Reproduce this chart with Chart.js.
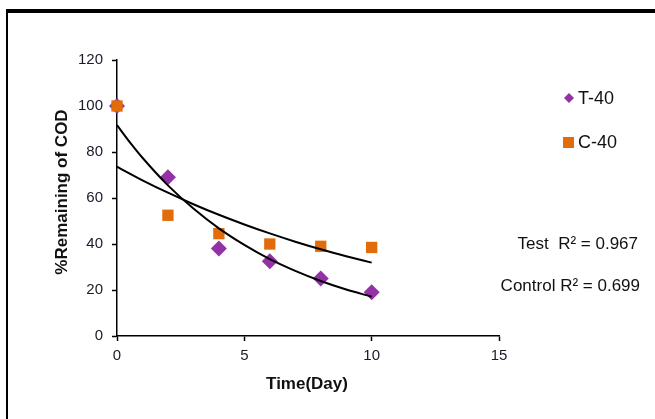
<!DOCTYPE html>
<html lang="en">
<head>
  <meta charset="UTF-8">
  <title>COD remaining</title>
  <script src="https://cdn.jsdelivr.net/npm/chart.js"></script>
  <style>
    body {
      margin: 0;
      background: #fff;
    }
    #wrap {
      width: 655px;
      height: 419px;
    }
  </style>
</head>
<body>
  <div id="wrap"><canvas id="cod-chart" width="655" height="419"></canvas></div>

  <script>
    // measured days
    const days = [0, 2, 4, 6, 8, 10];
    const testValues = [100, 69, 38, 32.5, 25, 19];        // T-40
    const controlValues = [100, 52.5, 44.5, 40, 39, 38.5]; // C-40

    // exponential trendlines
    const trendDays = [0, 0.5, 1, 2, 3, 4, 5, 6, 7, 8, 9, 10];
    const testTrend = [91.7, 84.3, 77.5, 65.5, 55.4, 46.8, 39.6, 33.4, 28.3, 23.9, 20.2, 17.1];
    const controlTrend = [73.6, 70.6, 67.7, 62.3, 57.3, 52.7, 48.5, 44.6, 41.0, 37.7, 34.7, 31.9];

    const seriesNames = ['T-40', 'C-40'];
    const r2Labels = ['Test  R\u00B2 = 0.967', 'Control R\u00B2 = 0.699'];

    const purple = '#9331a6';
    const orange = '#e36c0a';
    const font = 'Liberation Sans, Arial, sans-serif';

    const toPoints = (xs, ys) => xs.map((x, i) => ({ x: x, y: ys[i] }));

    // frame, axis titles, legend and R² notes
    const decorPlugin = {
      id: 'decor',
      afterDraw(chart) {
        const ctx = chart.ctx;
        ctx.save();
        ctx.fillStyle = '#000';
        ctx.fillRect(6, 9, 649, 4);
        ctx.fillRect(6, 9, 2, 410);

        ctx.fillStyle = '#111';
        ctx.font = 'bold 17px ' + font;
        ctx.textAlign = 'center';
        ctx.textBaseline = 'middle';
        ctx.fillText('Time(Day)', 307, 384);

        ctx.save();
        ctx.translate(62, 192);
        ctx.rotate(-Math.PI / 2);
        ctx.fillText('%Remaining of COD', 0, 0);
        ctx.restore();

        // legend
        ctx.font = '18px ' + font;
        ctx.textAlign = 'left';
        ctx.fillStyle = purple;
        ctx.beginPath();
        ctx.moveTo(569, 93); ctx.lineTo(574, 98); ctx.lineTo(569, 103); ctx.lineTo(564, 98);
        ctx.closePath();
        ctx.fill();
        ctx.fillStyle = orange;
        ctx.fillRect(563, 137, 11, 11);
        ctx.fillStyle = '#111';
        ctx.fillText(seriesNames[0], 578, 99);
        ctx.fillText(seriesNames[1], 578, 143);

        ctx.font = '17px ' + font;
        ctx.textAlign = 'right';
        ctx.fillText(r2Labels[0], 638, 244);
        ctx.fillText(r2Labels[1], 640, 286);
        ctx.restore();
      }
    };

    new Chart(document.getElementById('cod-chart'), {
      type: 'scatter',
      data: {
        datasets: [
          {
            label: 'Test trend',
            data: toPoints(trendDays, testTrend),
            showLine: true,
            borderColor: '#000',
            borderWidth: 2,
            pointRadius: 0,
            cubicInterpolationMode: 'monotone',
            order: 0
          },
          {
            label: 'Control trend',
            data: toPoints(trendDays, controlTrend),
            showLine: true,
            borderColor: '#000',
            borderWidth: 2,
            pointRadius: 0,
            cubicInterpolationMode: 'monotone',
            order: 0
          },
          {
            label: seriesNames[1],
            data: toPoints(days, controlValues),
            pointStyle: 'rect',
            pointRadius: 8,
            pointHoverRadius: 8,
            backgroundColor: orange,
            borderColor: orange,
            borderWidth: 0,
            clip: false,
            order: 1
          },
          {
            label: seriesNames[0],
            data: toPoints(days, testValues),
            pointStyle: 'rectRot',
            pointRadius: 8,
            pointHoverRadius: 8,
            backgroundColor: purple,
            borderColor: purple,
            borderWidth: 0,
            clip: false,
            order: 2
          }
        ]
      },
      options: {
        responsive: false,
        animation: false,
        events: [],
        layout: {
          padding: { left: 0, top: 60, right: 156, bottom: 0 }
        },
        plugins: {
          legend: { display: false },
          tooltip: { enabled: false }
        },
        scales: {
          x: {
            type: 'linear',
            min: 0,
            max: 15,
            afterFit(scale) { scale.height = 83; },
            ticks: {
              stepSize: 5,
              color: '#1a1a2a',
              padding: 6,
              font: { family: font, size: 15 }
            },
            grid: {
              drawOnChartArea: false,
              tickLength: 5,
              tickColor: '#000',
              tickWidth: 1.5
            },
            border: { color: '#000', width: 1.5 }
          },
          y: {
            min: 0,
            max: 120,
            afterFit(scale) { scale.width = 117; },
            ticks: {
              stepSize: 20,
              color: '#1a1a2a',
              padding: 9,
              font: { family: font, size: 15 }
            },
            grid: {
              drawOnChartArea: false,
              tickLength: 5,
              tickColor: '#000',
              tickWidth: 1.5
            },
            border: { color: '#000', width: 1.5 }
          }
        }
      },
      plugins: [decorPlugin]
    });
  </script>
</body>
</html>
